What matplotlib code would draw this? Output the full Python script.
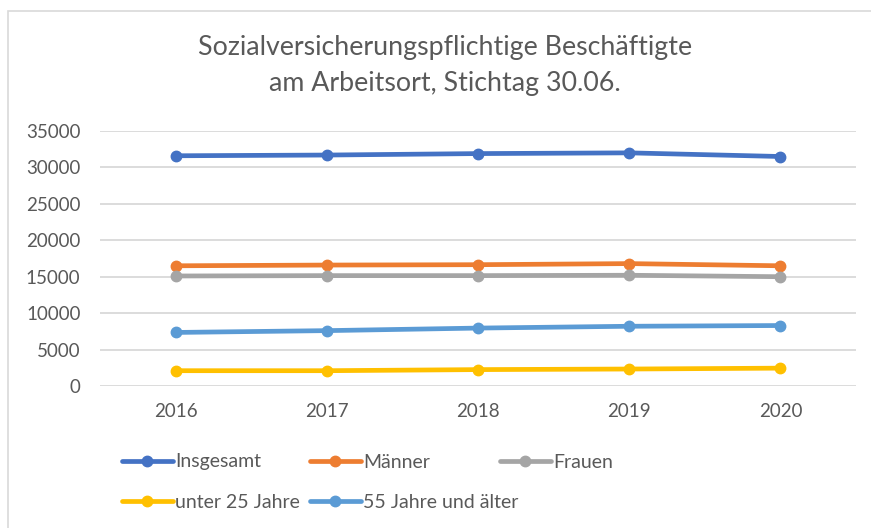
import matplotlib
matplotlib.use("Agg")
import matplotlib.pyplot as plt
from matplotlib.patches import Rectangle

plt.rcParams['font.family'] = ['Lato', 'DejaVu Sans']

years = ["2016", "2017", "2018", "2019", "2020"]
insgesamt = [31600, 31700, 31900, 32000, 31500]
maenner = [16500, 16600, 16650, 16800, 16500]
frauen = [15100, 15150, 15150, 15200, 15000]
unter25 = [2100, 2100, 2250, 2330, 2450]
ab55 = [7350, 7600, 7950, 8200, 8300]

series = [
    ("Insgesamt", insgesamt, "#4472C4"),
    ("Männer", maenner, "#ED7D31"),
    ("Frauen", frauen, "#A5A5A5"),
    ("unter 25 Jahre", unter25, "#FFC000"),
    ("55 Jahre und älter", ab55, "#5B9BD5"),
]

txt = "#595959"
fig = plt.figure(figsize=(8.71, 5.28), dpi=100)
fig.patches.append(Rectangle((8 / 871, -0.1), 1.1, 1 - 11 / 528 + 0.1,
                             transform=fig.transFigure, fill=False,
                             edgecolor="#d9d9d9", lw=1.2))

ax = fig.add_axes([100 / 871, 1 - 386 / 528, 756 / 871, 255 / 528])
x = range(len(years))
handles = {}
for name, vals, col in series:
    h, = ax.plot(x, vals, color=col, lw=3.4, marker="o", ms=7.5,
                 solid_capstyle="round", label=name)
    handles[name] = h

ax.set_xlim(-0.5, 4.5)
ax.set_ylim(0, 35000)
ax.set_yticks(range(0, 35001, 5000))
ax.set_xticks(list(x))
ax.set_xticklabels(years)
ax.grid(axis="y", color="#d9d9d9", lw=1.3)
ax.set_axisbelow(True)
for s in ax.spines.values():
    s.set_visible(False)
ax.tick_params(length=0, colors=txt, labelsize=13.5)
ax.tick_params(axis="y", pad=14)
ax.tick_params(axis="x", pad=12)

fig.text(445 / 871, 1 - 47 / 528, "Sozialversicherungspflichtige Beschäftigte",
         ha="center", va="center", fontsize=19.3, color=txt)
fig.text(445 / 871, 1 - 83 / 528, "am Arbeitsort, Stichtag 30.06.",
         ha="center", va="center", fontsize=19.3, color=txt)

entries = [("Insgesamt", 122, 462), ("Männer", 310, 462), ("Frauen", 500, 462),
           ("unter 25 Jahre", 122, 502), ("55 Jahre und älter", 310, 502)]
for name, cx, cy in entries:
    fig.legend([handles[name]], [name], loc="center left",
               bbox_to_anchor=(cx / 871, 1 - cy / 528),
               frameon=False, fontsize=14, labelcolor=txt,
               handlelength=2.6, handletextpad=0.15, borderpad=0,
               borderaxespad=0)

fig.savefig("out.png", dpi=100)
